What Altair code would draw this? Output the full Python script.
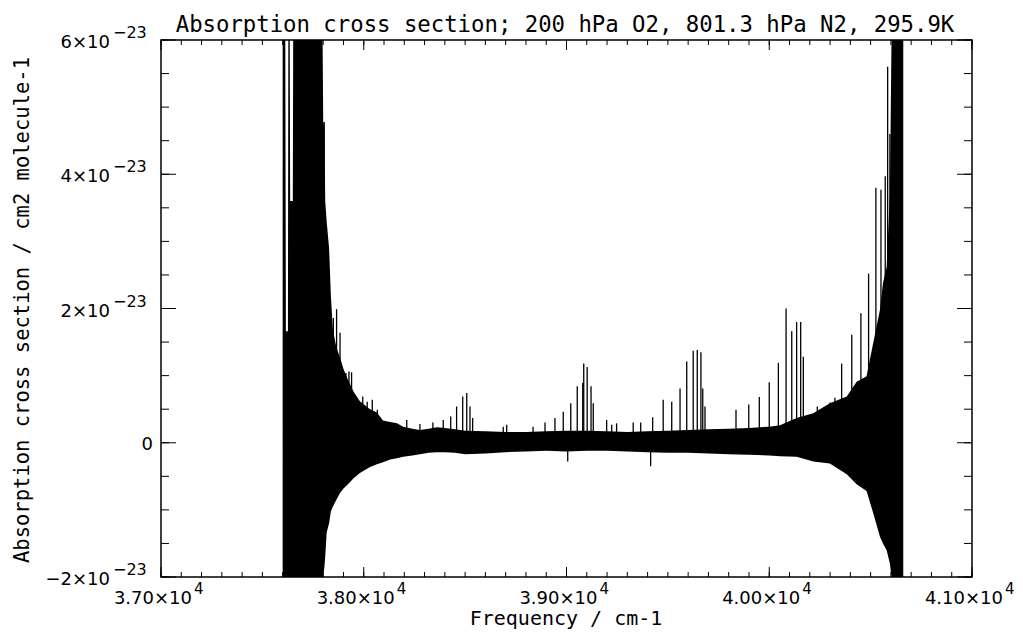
import altair as alt
import pandas as pd

W, H = 811, 537

title_text = "Absorption cross section; 200 hPa O2, 801.3 hPa N2, 295.9K"
x_title = "Frequency / cm-1"
y_title = "Absorption cross section / cm2 molecule-1"

# Envelope of the dense spectrum (frequency cm-1, values in units of 1e-23 cm2/molecule)
freq = [37600, 37613, 37616, 37626, 37628, 37635, 37637, 37650, 37652, 37797,
        37800, 37806, 37810, 37817, 37829, 37838, 37848, 37865, 37883, 37900,
        37922, 37950, 37981, 38031, 38065, 38095, 38130, 38164, 38194, 38240,
        38277, 38320, 38361, 38400, 38450, 38500, 38600, 38700, 38800, 38900,
        39000, 39100, 39200, 39300, 39400, 39500, 39600, 39700, 39800, 39900,
        40000, 40053, 40135, 40217, 40299, 40382, 40431, 40480, 40513, 40546,
        40561, 40579, 40595, 40603, 40661]
upper = [6.0, 6.0, 1.66, 1.66, 6.0, 6.0, 3.6, 3.6, 6.0, 6.0,
         4.8, 4.7, 3.6, 3.3, 2.9, 2.18, 1.68, 1.42, 1.27, 1.1,
         0.94, 0.76, 0.62, 0.5, 0.45, 0.33, 0.31, 0.29, 0.24, 0.21,
         0.19, 0.21, 0.23, 0.22, 0.2, 0.18, 0.17, 0.16, 0.16, 0.17,
         0.18, 0.18, 0.17, 0.16, 0.17, 0.18, 0.19, 0.2, 0.21, 0.22,
         0.24, 0.26, 0.37, 0.44, 0.59, 0.69, 0.91, 0.99, 1.49, 1.98,
         2.38, 2.62, 3.7, 6.0, 6.0]
lower = [-2.0, -2.0, -2.0, -2.0, -2.0, -2.0, -2.0, -2.0, -2.0, -2.0,
         -2.0, -1.85, -1.7, -1.34, -1.2, -1.02, -0.95, -0.85, -0.75, -0.68,
         -0.62, -0.53, -0.45, -0.36, -0.32, -0.29, -0.25, -0.23, -0.21, -0.19,
         -0.17, -0.15, -0.14, -0.14, -0.15, -0.17, -0.16, -0.14, -0.13, -0.12,
         -0.13, -0.12, -0.12, -0.13, -0.14, -0.15, -0.15, -0.16, -0.17, -0.18,
         -0.19, -0.2, -0.21, -0.28, -0.31, -0.47, -0.62, -0.72, -1.05, -1.4,
         -1.5, -1.6, -1.8, -2.0, -2.0]

# Individual lines standing out of the band
spike_freq = [37805, 37850, 37866, 37883, 37912, 37927, 37940, 37995, 38017, 38042, 38067,
              38212, 38277, 38341, 38392, 38429, 38458, 38488, 38508, 38524, 38537,
              38688, 38705, 38835, 38894, 38943, 38984, 39021, 39053, 39080, 39085,
              39102, 39121, 39132, 39198, 39223, 39247, 39329, 39366, 39425, 39477,
              39519, 39560, 39593, 39625, 39645, 39663, 39672, 39683, 39836, 39899,
              39951, 40000, 40045, 40083, 40111, 40135, 40155, 40168, 40237, 40300,
              40324, 40357, 40407, 40452, 40490, 40526, 40551, 40572, 40584, 40595,
              39006, 39415]
spike_peak = [4.78, 1.86, 1.99, 1.64, 1.04, 1.06, 1.05, 0.69, 0.61, 0.64, 0.49,
              0.34, 0.28, 0.3, 0.34, 0.39, 0.54, 0.69, 0.74, 0.54, 0.37,
              0.24, 0.27, 0.24, 0.3, 0.37, 0.46, 0.59, 0.84, 0.89, 1.18,
              1.13, 0.84, 0.59, 0.34, 0.27, 0.29, 0.3, 0.3, 0.38, 0.64,
              0.61, 0.81, 1.21, 1.37, 1.38, 1.35, 0.81, 0.54, 0.49, 0.57,
              0.68, 0.9, 1.19, 2.0, 1.66, 1.8, 1.8, 1.28, 0.54, 0.6,
              0.67, 1.18, 1.61, 1.93, 2.52, 3.8, 3.77, 3.97, 5.6, 4.6,
              -0.28, -0.35]

x_major = [37000, 38000, 39000, 40000, 41000]
x_major_labels = ["3.70×10", "3.80×10", "3.90×10", "4.00×10", "4.10×10"]
x_exponent = ["4", "4", "4", "4", "4"]
x_minor = [37000 + 100 * i for i in range(41)]
y_major = [-2, 2, 4, 6]
y_major_labels = ["−2×10", "2×10", "4×10", "6×10"]
y_exponent = ["−23", "−23", "−23", "−23"]
y_zero = [0]
y_zero_label = ["0"]
y_minor = [-2 + 0.5 * i for i in range(17)]

xs = alt.Scale(domain=[37000, 41000], nice=False, zero=False)
ys = alt.Scale(domain=[-2, 6], nice=False, zero=False)

df_band = pd.DataFrame({"f": freq, "upper": upper, "lower": lower})
df_spk = pd.DataFrame({"f": spike_freq, "peak": spike_peak})
df_xmaj = pd.DataFrame({"f": x_major, "label": x_major_labels, "sup": x_exponent})
df_xmin = pd.DataFrame({"f": x_minor})
df_ymaj = pd.DataFrame({"v": y_major, "label": y_major_labels, "sup": y_exponent})
df_yall = pd.DataFrame({"v": [-2, 0, 2, 4, 6]})
df_yzero = pd.DataFrame({"v": y_zero, "label": y_zero_label})
df_ymin = pd.DataFrame({"v": y_minor})

X = lambda: alt.X("f:Q", scale=xs, axis=None)
Y = lambda fld: alt.Y(fld, scale=ys, axis=None)

band = alt.Chart(df_band).mark_area(color="black", clip=True, interpolate="linear").encode(
    x=X(), y=Y("upper:Q"), y2="lower:Q")
spikes = alt.Chart(df_spk).mark_rule(color="black", strokeWidth=1.3, clip=True).encode(
    x=X(), y=Y("peak:Q"), y2=alt.datum(0))

def xticks(df, length):
    b = alt.Chart(df).mark_rule(color="black", strokeWidth=1).encode(
        x=X(), y=alt.value(H), y2=alt.value(H - length))
    t = alt.Chart(df).mark_rule(color="black", strokeWidth=1).encode(
        x=X(), y=alt.value(0), y2=alt.value(length))
    return [b, t]

def yticks(df, length):
    l = alt.Chart(df).mark_rule(color="black", strokeWidth=1).encode(
        y=Y("v:Q"), x=alt.value(0), x2=alt.value(length))
    r = alt.Chart(df).mark_rule(color="black", strokeWidth=1).encode(
        y=Y("v:Q"), x=alt.value(W), x2=alt.value(W - length))
    return [l, r]

ticks = xticks(df_xmin, 5) + xticks(df_xmaj, 10) + yticks(df_ymin, 8) + yticks(df_yall, 15)

lab_font = "DejaVu Sans"
xlab = alt.Chart(df_xmaj).mark_text(font=lab_font, fontSize=18, align="right", baseline="alphabetic",
                                    dx=31, color="black").encode(
    x=X(), y=alt.value(H + 27), text="label:N")
xsup = alt.Chart(df_xmaj).mark_text(font=lab_font, fontSize=15, align="left", baseline="alphabetic",
                                    dx=33, color="black").encode(
    x=X(), y=alt.value(H + 17), text="sup:N")
ylab = alt.Chart(df_ymaj).mark_text(font=lab_font, fontSize=18, align="right", baseline="alphabetic",
                                    dy=8, color="black").encode(
    x=alt.value(-51), y=Y("v:Q"), text="label:N")
ysup = alt.Chart(df_ymaj).mark_text(font=lab_font, fontSize=16, align="left", baseline="alphabetic",
                                    dy=-2, color="black").encode(
    x=alt.value(-48), y=Y("v:Q"), text="sup:N")
yzero = alt.Chart(df_yzero).mark_text(font=lab_font, fontSize=18, align="right", baseline="alphabetic",
                                      dy=7, color="black").encode(
    x=alt.value(-8), y=Y("v:Q"), text="label:N")

mono = "DejaVu Sans Mono"
title = alt.Chart(pd.DataFrame({"t": [title_text]})).mark_text(
    font=mono, fontSize=22.3, align="center", baseline="alphabetic", color="black").encode(
    x=alt.value(404), y=alt.value(-8), text="t:N")
xt = alt.Chart(pd.DataFrame({"t": [x_title]})).mark_text(
    font=mono, fontSize=20, align="center", baseline="alphabetic", color="black").encode(
    x=alt.value(405), y=alt.value(H + 48), text="t:N")
yt = alt.Chart(pd.DataFrame({"t": [y_title]})).mark_text(
    font=mono, fontSize=20.5, align="center", baseline="alphabetic", angle=270, color="black").encode(
    x=alt.value(-132), y=alt.value(270), text="t:N")

chart = alt.layer(band, spikes, *ticks, xlab, xsup, ylab, ysup, yzero, title, xt, yt).properties(
    width=W, height=H,
    autosize=alt.AutoSizeParams(type="none"),
    padding={"left": 153, "top": 32, "right": 43, "bottom": 56},
    background="white",
).configure_view(stroke="black", strokeWidth=1.5)

chart.save("out.html", embed_options={"renderer": "svg", "actions": False})
